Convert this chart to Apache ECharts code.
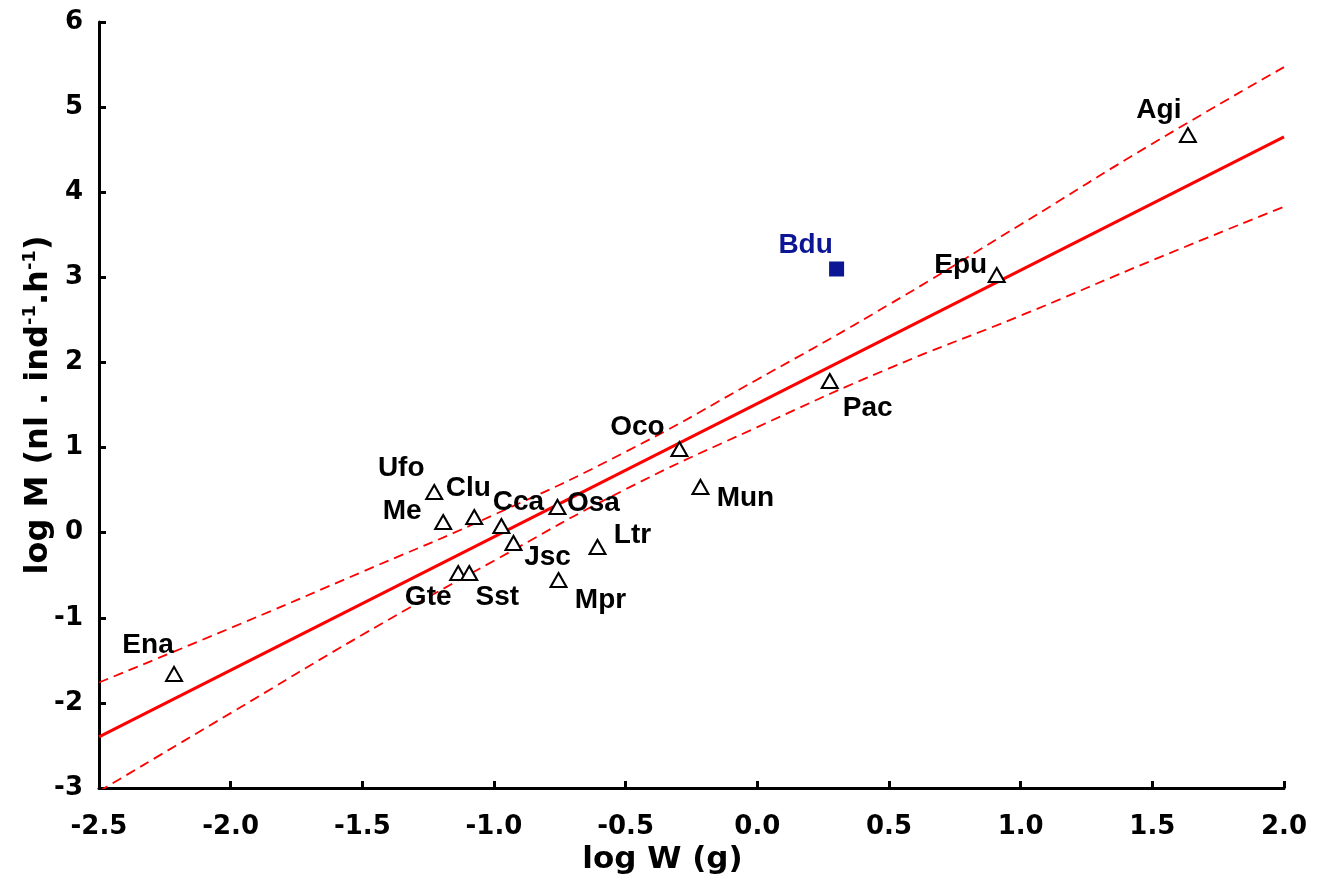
<!DOCTYPE html>
<html>
<head>
<meta charset="utf-8">
<script src="https://cdn.jsdelivr.net/npm/echarts@6/dist/echarts.min.js"></script>
<style>html,body{margin:0;padding:0;background:#fff}#c{width:1318px;height:885px}</style>
</head>
<body>
<div id="c"></div>
<script>
// ---- data ----
const speciesNames = ['Ena','Ufo','Me','Clu','Cca','Osa','Jsc','Gte','Sst','Mpr','Ltr','Oco','Mun','Pac','Epu','Agi'];
const speciesLogW  = [-2.215,-1.227,-1.193,-1.075,-0.972,-0.759,-0.926,-1.136,-1.094,-0.755,-0.607,-0.296,-0.216,0.275,0.909,1.635];
const speciesLogM  = [-1.66,0.478,0.125,0.184,0.078,0.302,-0.121,-0.474,-0.474,-0.556,-0.168,0.983,0.537,1.782,3.027,4.672];

const outlierNames = ['Bdu'];
const outlierLogW  = [0.301];
const outlierLogM  = [3.098];

const fitX = [-2.5, 2.0];
const fitY = [-2.40, 4.65];

const bandX     = [-2.5,-2.0,-1.5,-1.0,-0.5,0.0,0.5,1.0,1.5,2.0];
const bandUpper = [-1.76,-1.12,-0.46,0.21,0.95,1.80,2.68,3.62,4.57,5.47];
const bandLower = [-3.04,-2.12,-1.20,-0.33,0.51,1.24,1.93,2.55,3.20,3.83];

// label placement (style): offset of each label centre from its marker, px
const speciesLabelOffsets = [[-26,-29],[-33,-24],[-41,-11],[-6,-29],[17,-24],[36,-4],[34,14],[-30,24],[28,24],[42,20],[35,-12],[-42,-22],[45,11],[38,27],[-36,-10],[-29,-25]];
const outlierLabelOffsets = [[-31,-24]];

const RED = '#ff0000';
const NAVY = '#0c1694';
const tickFont = 'DejaVu Sans';
const labelFont = '"Liberation Sans", Arial, sans-serif';

const chart = echarts.init(document.getElementById('c'));

const labelBase = {
  show: true, position: 'inside', align: 'center', verticalAlign: 'middle',
  fontFamily: labelFont, fontWeight: 'bold', fontSize: 28, color: '#000'
};

chart.setOption({
  animation: false,
  backgroundColor: '#fff',
  grid: { left: 99, right: 34, top: 22, bottom: 97, containLabel: false, outerBoundsMode: 'none' },
  xAxis: {
    type: 'value', min: -2.5, max: 2.0, interval: 0.5,
    name: 'log W (g)', nameLocation: 'middle', nameGap: 56, nameMoveOverlap: false,
    nameTextStyle: { fontFamily: tickFont, fontWeight: 'bold', fontSize: 31, color: '#000', padding: [0, 58, 0, 0] },
    axisLine: { show: true, onZero: false, lineStyle: { color: '#000', width: 3 } },
    axisTick: { show: true, inside: true, length: 7, lineStyle: { color: '#000', width: 3 } },
    axisLabel: { margin: 26, fontFamily: tickFont, fontWeight: 'bold', fontSize: 26, color: '#000',
      formatter: v => v.toFixed(1) },
    splitLine: { show: false }
  },
  yAxis: {
    type: 'value', min: -3, max: 6, interval: 1,
    name: '{a|log M (nl . ind}{s|-1}{a|.h}{s|-1}{a|)}', nameLocation: 'middle', nameGap: 42, nameRotate: 90,
    nameMoveOverlap: false,
    nameTextStyle: {
      rich: {
        a: { fontFamily: tickFont, fontWeight: 'bold', fontSize: 32, lineHeight: 36, color: '#000' },
        s: { fontFamily: tickFont, fontWeight: 'bold', fontSize: 18, lineHeight: 19, verticalAlign: 'top', color: '#000' }
      }
    },
    axisLine: { show: true, onZero: false, lineStyle: { color: '#000', width: 3 } },
    axisTick: { show: true, inside: true, length: 7, lineStyle: { color: '#000', width: 3 } },
    axisLabel: { margin: 16, fontFamily: tickFont, fontWeight: 'bold', fontSize: 26, color: '#000', padding: [8, 0, 0, 0] },
    splitLine: { show: false }
  },
  series: [
    {
      name: 'upper', type: 'line', smooth: true, symbol: 'none', silent: true, clip: true, z: 2,
      data: bandX.map((x, i) => [x, bandUpper[i]]),
      lineStyle: { color: RED, width: 1.8, type: [10, 6] }
    },
    {
      name: 'lower', type: 'line', smooth: true, symbol: 'none', silent: true, clip: true, z: 2,
      data: bandX.map((x, i) => [x, bandLower[i]]),
      lineStyle: { color: RED, width: 1.8, type: [10, 6] }
    },
    {
      name: 'fit', type: 'line', symbol: 'none', silent: true, clip: true, z: 3,
      data: fitX.map((x, i) => [x, fitY[i]]),
      lineStyle: { color: RED, width: 3 }
    },
    {
      name: 'species', type: 'scatter', z: 4,
      symbol: 'triangle', symbolSize: [16, 14],
      itemStyle: { color: '#fff', borderColor: '#000', borderWidth: 2, opacity: 1 },
      data: speciesNames.map((n, i) => ({
        name: n, value: [speciesLogW[i], speciesLogM[i]],
        label: Object.assign({}, labelBase, { formatter: n, offset: speciesLabelOffsets[i] })
      }))
    },
    {
      name: 'outlier', type: 'scatter', z: 5,
      symbol: 'rect', symbolSize: 15,
      itemStyle: { color: NAVY, opacity: 1 },
      data: outlierNames.map((n, i) => ({
        name: n, value: [outlierLogW[i], outlierLogM[i]],
        label: Object.assign({}, labelBase, { formatter: n, color: NAVY, offset: outlierLabelOffsets[i] })
      }))
    }
  ]
});
</script>
</body>
</html>
